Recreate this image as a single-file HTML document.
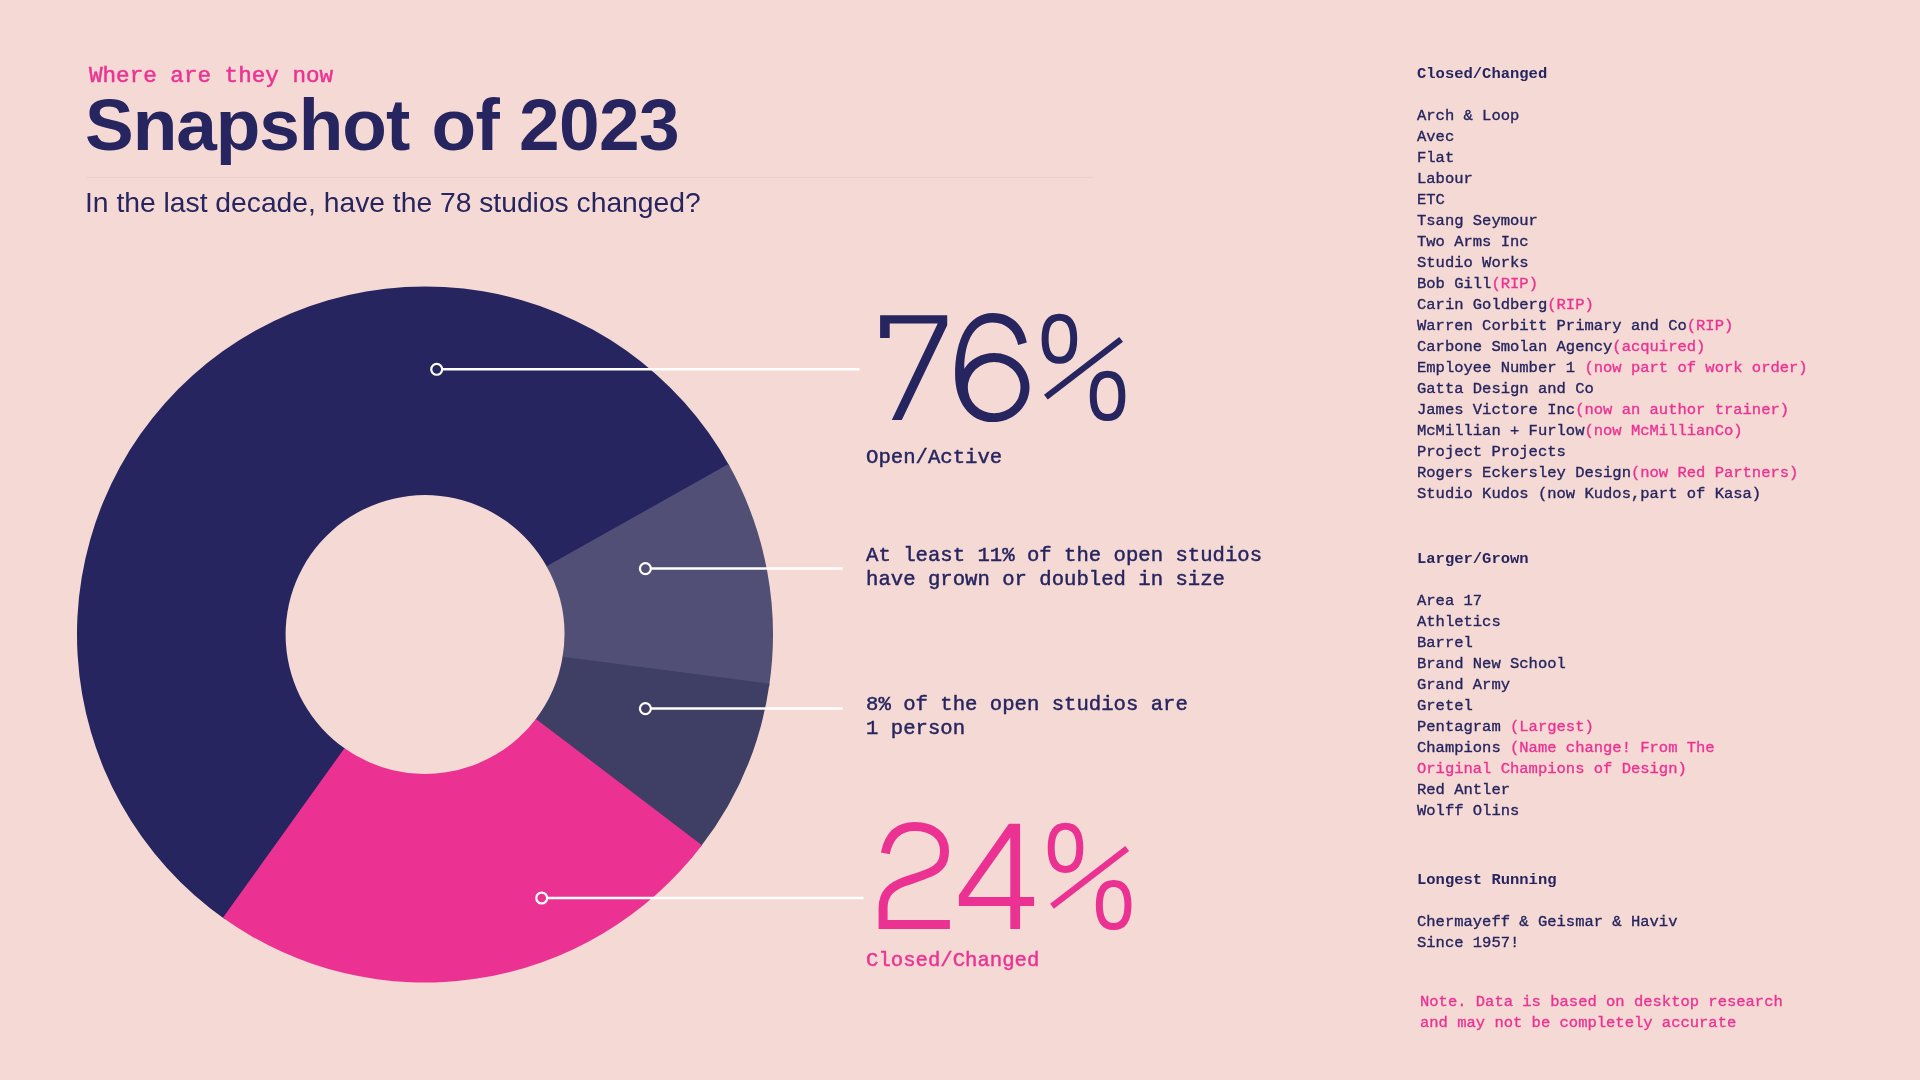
<!DOCTYPE html>
<html lang="en">
<head>
<meta charset="utf-8">
<title>Snapshot of 2023</title>
<style>
html,body{margin:0;padding:0;}
body{width:1920px;height:1080px;overflow:hidden;background:#f5d9d4;position:relative;font-family:"Liberation Mono",monospace;color:#26255f;}
.abs{position:absolute;white-space:nowrap;will-change:transform;}
.mono{font-family:"Liberation Mono",monospace;}
.sans{font-family:"Liberation Sans",sans-serif;}
.pink{color:#eb3293;}
#kicker{left:89px;top:62px;font-size:22.6px;line-height:28px;color:#eb3293;-webkit-text-stroke:0.5px #eb3293;}
#title{left:85px;top:83px;font-size:73px;line-height:84px;font-weight:bold;font-family:"Liberation Sans",sans-serif;letter-spacing:-0.6px;}
#title span{position:absolute;top:0;}
#rule{left:86px;top:177px;width:1007px;height:1px;background:#ecd0cc;}
#sub{left:85px;top:184px;font-size:28.25px;line-height:36px;font-family:"Liberation Sans",sans-serif;}
.mid{font-size:20.64px;line-height:24px;left:866px;-webkit-text-stroke:0.45px currentColor;}
.list{left:1417px;font-size:15.5px;line-height:21px;-webkit-text-stroke:0.35px currentColor;}
.list b{font-weight:bold;-webkit-text-stroke:0;}
svg{position:absolute;left:0;top:0;}
</style>
</head>
<body>
<svg width="1920" height="1080" viewBox="0 0 1920 1080">
<g id="donut">
<path d="M224.90 919.22A348.0 348.0 0 1 1 729.60 466.21L547.02 567.09A139.4 139.4 0 1 0 345.24 748.83Z" fill="#26255f"/>
<path d="M728.42 464.09A348.0 348.0 0 0 1 769.13 686.24L562.44 657.82A139.4 139.4 0 0 0 546.54 566.24Z" fill="#514f76"/>
<path d="M769.49 683.83A348.0 348.0 0 0 1 700.49 847.12L535.36 719.67A139.4 139.4 0 0 0 562.60 656.86Z" fill="#3f3e65"/>
<path d="M701.97 845.19A348.0 348.0 0 0 1 222.92 917.81L344.45 748.27A139.4 139.4 0 0 0 535.95 718.90Z" fill="#eb3293"/>
</g>
<g id="leaders" stroke="#ffffff" stroke-width="2.5" fill="none">
<line x1="442" y1="369.3" x2="859.6" y2="369.3"/>
<circle cx="436.7" cy="369.3" r="5.45" stroke-width="2.2"/>
<line x1="651" y1="568.6" x2="842.7" y2="568.6"/>
<circle cx="645.4" cy="568.6" r="5.45" stroke-width="2.2"/>
<line x1="651" y1="708.6" x2="842.7" y2="708.6"/>
<circle cx="645.4" cy="708.6" r="5.45" stroke-width="2.2"/>
<line x1="547" y1="898" x2="863.5" y2="898"/>
<circle cx="541.7" cy="898" r="5.45" stroke-width="2.2"/>
</g>
<g id="n76" fill="#26255f">
<path d="M880.1 315.2L947.2 315.2L947.2 325.3L901.8 419.9L891.8 419.9L937.7 323.5L889.7 323.5L889.7 338L880.1 338Z"/>
<path fill-rule="evenodd" d="M1026.8 342.6C1023.5 325 1011 313.1 992.7 313.1C968 313.1 955.1 340 955.1 374.4C955.1 401 969 422.1 992.7 422.1C1013 422.1 1029.5 406.65 1029.5 387.55C1029.5 368.45 1013.7 353 994.15 353C981 353 970 359.5 964.3 368.7C964.3 345 972 322.4 992.7 322.4C1006 322.4 1015 331 1018.1 344.9ZM994.15 362A26.35 25.6 0 1 0 994.15 413.2A26.35 25.6 0 1 0 994.15 362Z"/>
</g>
<g id="pct" fill="none" stroke="#26255f">
<path d="M1059.40 317.15C1067.98 317.15 1073.70 323.20 1073.70 338.75C1073.70 354.30 1067.98 360.35 1059.40 360.35C1050.82 360.35 1045.10 354.30 1045.10 338.75C1045.10 323.20 1050.82 317.15 1059.40 317.15Z" stroke-width="7"/>
<path d="M1107.55 374.30C1116.13 374.30 1121.85 380.35 1121.85 395.90C1121.85 411.45 1116.13 417.50 1107.55 417.50C1098.97 417.50 1093.25 411.45 1093.25 395.90C1093.25 380.35 1098.97 374.30 1107.55 374.30Z" stroke-width="7"/>
<line x1="1045.9" y1="397.1" x2="1121.1" y2="339.4" stroke-width="6.2"/>
</g>
<g id="n24" fill="#eb3293">
<path d="M885.3 853.3C888.5 838 897 826.6 914.6 826.6C933 826.6 944.5 836 944.5 851C944.5 864 938 869 930 872.5C922 876 912 879 904.7 881.6C893 886 883.1 892 883.1 908L883.1 924.5L949.9 924.5" fill="none" stroke="#eb3293" stroke-width="9" stroke-linejoin="miter"/>
<path fill-rule="evenodd" d="M1008.9 823.7L1020.1 823.7L1020.1 896.9L1034.1 896.9L1034.1 906.1L1020.1 906.1L1020.1 929L1010.3 929L1010.3 906.1L958.9 906.1L958.9 894.9ZM1010.3 837.6L1010.3 896.9L968.1 896.9Z"/>
</g>
<g id="pct2" fill="none" stroke="#eb3293" transform="translate(6.1 509.1)">
<path d="M1059.40 317.15C1067.98 317.15 1073.70 323.20 1073.70 338.75C1073.70 354.30 1067.98 360.35 1059.40 360.35C1050.82 360.35 1045.10 354.30 1045.10 338.75C1045.10 323.20 1050.82 317.15 1059.40 317.15Z" stroke-width="7"/>
<path d="M1107.55 374.30C1116.13 374.30 1121.85 380.35 1121.85 395.90C1121.85 411.45 1116.13 417.50 1107.55 417.50C1098.97 417.50 1093.25 411.45 1093.25 395.90C1093.25 380.35 1098.97 374.30 1107.55 374.30Z" stroke-width="7"/>
<line x1="1045.9" y1="397.1" x2="1121.1" y2="339.4" stroke-width="6.2"/>
</g>
</svg>

<div id="kicker" class="abs mono">Where are they now</div>
<div id="title" class="abs"><span id="t1" style="left:0;letter-spacing:-1.05px">Snapshot</span><span id="t2" style="left:346.5px">of</span><span id="t3" style="left:434px">2023</span></div>
<div id="rule" class="abs"></div>
<div id="sub" class="abs">In the last decade, have the 78 studios changed?</div>

<div class="abs mid" style="top:446px;">Open/Active</div>
<div class="abs mid" style="top:544px;">At least 11% of the open studios<br>have grown or doubled in size</div>
<div class="abs mid" style="top:693px;">8% of the open studios are<br>1 person</div>
<div class="abs mid pink" style="top:949px;">Closed/Changed</div>

<div class="abs list" style="top:64px;"><b>Closed/Changed</b><br><br>Arch &amp; Loop<br>Avec<br>Flat<br>Labour<br>ETC<br>Tsang Seymour<br>Two Arms Inc<br>Studio Works<br>Bob Gill<span class="pink">(RIP)</span><br>Carin Goldberg<span class="pink">(RIP)</span><br>Warren Corbitt Primary and Co<span class="pink">(RIP)</span><br>Carbone Smolan Agency<span class="pink">(acquired)</span><br>Employee Number 1 <span class="pink">(now part of work order)</span><br>Gatta Design and Co<br>James Victore Inc<span class="pink">(now an author trainer)</span><br>McMillian + Furlow<span class="pink">(now McMillianCo)</span><br>Project Projects<br>Rogers Eckersley Design<span class="pink">(now Red Partners)</span><br>Studio Kudos (now Kudos,part of Kasa)</div>

<div class="abs list" style="top:549px;"><b>Larger/Grown</b><br><br>Area 17<br>Athletics<br>Barrel<br>Brand New School<br>Grand Army<br>Gretel<br>Pentagram <span class="pink">(Largest)</span><br>Champions <span class="pink">(Name change! From The<br>Original Champions of Design)</span><br>Red Antler<br>Wolff Olins</div>

<div class="abs list" style="top:870px;"><b>Longest Running</b><br><br>Chermayeff &amp; Geismar &amp; Haviv<br>Since 1957!</div>

<div class="abs list pink" style="left:1420px;top:992px;">Note. Data is based on desktop research<br>and may not be completely accurate</div>
</body>
</html>
